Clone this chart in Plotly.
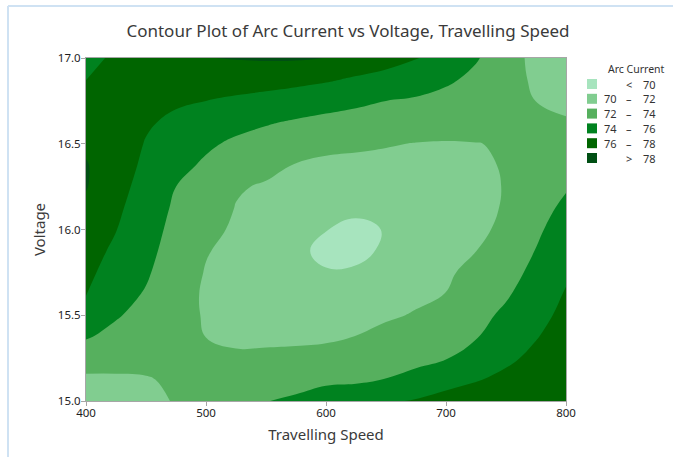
import plotly.graph_objects as go

# ---------------- data ----------------
speed = [400, 425, 450, 475, 500, 525, 550, 575, 600, 625, 650, 675, 700, 725, 750, 775, 800]
voltage = [15.0, 15.125, 15.25, 15.375, 15.5, 15.625, 15.75, 15.875, 16.0,
           16.125, 16.25, 16.375, 16.5, 16.625, 16.75, 16.875, 17.0]

# Arc current, one row per voltage (bottom to top), one column per travelling speed
arc_current = [
    [70.60, 70.90, 71.40, 72.15, 72.70, 73.30, 73.95, 74.30, 74.80, 74.90, 75.75, 76.15, 76.70, 76.95, 77.20, 77.40, 77.70],
    [71.67, 71.77, 71.91, 72.20, 72.46, 72.72, 73.09, 73.33, 73.67, 73.78, 74.04, 74.55, 75.28, 75.88, 76.40, 76.90, 77.39],
    [72.90, 72.62, 72.41, 72.30, 72.22, 72.14, 72.23, 72.33, 72.57, 72.90, 73.23, 73.51, 73.91, 74.81, 75.67, 76.40, 77.07],
    [74.16, 73.46, 72.89, 72.49, 71.99, 71.83, 71.77, 71.75, 71.75, 72.03, 72.43, 72.81, 73.29, 73.88, 75.02, 75.91, 76.76],
    [75.18, 74.17, 73.38, 72.60, 71.86, 71.61, 71.47, 71.38, 71.22, 71.43, 71.80, 72.11, 72.66, 73.41, 74.37, 75.45, 76.44],
    [76.08, 74.65, 73.87, 72.82, 71.76, 71.39, 71.16, 71.01, 70.69, 70.80, 71.35, 71.71, 72.02, 72.93, 73.77, 74.98, 76.13],
    [76.47, 75.12, 74.21, 73.00, 71.90, 71.32, 70.85, 70.60, 70.08, 70.15, 70.80, 71.36, 71.77, 72.45, 73.25, 74.52, 75.73],
    [76.86, 75.60, 74.49, 73.25, 72.10, 71.53, 70.87, 70.25, 69.72, 69.70, 70.18, 71.02, 71.52, 71.99, 72.72, 74.06, 75.27],
    [77.25, 76.05, 74.77, 73.46, 72.50, 71.74, 71.19, 70.62, 70.03, 69.72, 70.06, 70.67, 71.28, 71.80, 72.20, 73.71, 74.81],
    [77.63, 76.34, 75.05, 73.70, 72.91, 71.94, 71.51, 71.07, 70.60, 70.25, 70.55, 70.88, 71.03, 71.61, 72.12, 73.37, 74.35],
    [78.10, 76.64, 75.33, 74.00, 73.32, 72.15, 71.84, 71.50, 71.16, 70.95, 71.10, 71.24, 71.27, 71.58, 72.08, 73.02, 73.85],
    [78.12, 76.93, 75.62, 74.53, 73.73, 73.07, 72.42, 71.92, 71.68, 71.57, 71.59, 71.60, 71.59, 71.77, 72.10, 72.68, 73.28],
    [77.70, 77.00, 75.90, 75.07, 74.29, 73.69, 73.26, 72.80, 72.41, 72.30, 72.10, 71.95, 71.91, 71.97, 72.10, 72.43, 72.70],
    [77.08, 77.00, 76.21, 75.64, 75.15, 74.56, 74.16, 73.80, 73.49, 73.28, 73.05, 72.83, 72.60, 72.47, 72.30, 72.21, 72.12],
    [76.54, 77.00, 76.54, 76.23, 76.00, 75.69, 75.40, 75.07, 74.74, 74.37, 74.00, 73.78, 73.43, 73.02, 72.55, 71.99, 71.69],
    [75.98, 76.71, 76.87, 76.92, 76.95, 76.89, 76.75, 76.53, 76.22, 75.78, 75.39, 74.95, 74.30, 73.58, 72.77, 71.69, 71.29],
    [75.30, 76.40, 77.20, 77.60, 77.95, 78.10, 78.20, 78.20, 77.98, 77.20, 76.70, 76.10, 75.20, 74.15, 72.98, 71.40, 70.90],
]

contour_levels = [70, 72, 74, 76, 78]
band_colors = ["#a7e4be", "#81cd90", "#56b05e", "#00821f", "#006500", "#004f14"]
legend_low = ["", "70", "72", "74", "76", ""]
legend_mid = ["<", "\u2013", "\u2013", "\u2013", "\u2013", ">"]
legend_high = ["70", "72", "74", "76", "78", "78"]
legend_title = "Arc Current"

x_ticks = [400, 500, 600, 700, 800]
y_ticks = [15.0, 15.5, 16.0, 16.5, 17.0]

# ---------------- figure ----------------
n = len(band_colors)
stepped = []
for i, c in enumerate(band_colors):
    lo = 0.0 if i == 0 else (i - 0.5) / (n - 1)
    hi = 1.0 if i == n - 1 else (i + 0.5) / (n - 1)
    stepped.append([lo, c])
    stepped.append([hi, c])

fig = go.Figure()
fig.add_trace(go.Contour(
    x=speed, y=voltage, z=arc_current,
    contours=dict(start=contour_levels[0], end=contour_levels[-1],
                  size=contour_levels[1] - contour_levels[0],
                  coloring="fill", showlines=False),
    colorscale=stepped, showscale=False,
    line=dict(width=0, smoothing=1.2),
    hoverinfo="skip",
))

FONT = "Noto Sans"
L, R, T, B = 86, 566, 58, 401
W, H = 673, 457


def px(xp):
    return (xp - L) / (R - L)


def py(yp):
    return (B - yp) / (B - T)


shapes = []
annotations = []

# outer window border (light blue)
shapes.append(dict(type="line", xref="paper", yref="paper",
                   x0=px(8), x1=px(W), y0=py(6), y1=py(6),
                   line=dict(color="#cfe2f3", width=2)))
shapes.append(dict(type="line", xref="paper", yref="paper",
                   x0=px(8), x1=px(8), y0=py(6), y1=py(H),
                   line=dict(color="#cfe2f3", width=2)))

# legend
annotations.append(dict(text=legend_title, xref="paper", yref="paper",
                        x=px(606), y=py(69), xanchor="left", yanchor="middle",
                        showarrow=False, font=dict(family=FONT, size=10.5, color="#333")))
for i, c in enumerate(band_colors):
    cy = 84 + 14.8 * i
    shapes.append(dict(type="rect", xref="paper", yref="paper",
                       x0=px(587), x1=px(597), y0=py(cy + 5), y1=py(cy - 5),
                       fillcolor=c, line=dict(width=0)))
    if legend_low[i]:
        annotations.append(dict(text=legend_low[i], xref="paper", yref="paper",
                                x=px(619), y=py(cy), xanchor="right", yanchor="middle",
                                showarrow=False, font=dict(family=FONT, size=11, color="#333")))
    annotations.append(dict(text=legend_mid[i], xref="paper", yref="paper",
                            x=px(629), y=py(cy), xanchor="center", yanchor="middle",
                            showarrow=False, font=dict(family=FONT, size=11, color="#333")))
    annotations.append(dict(text=legend_high[i], xref="paper", yref="paper",
                            x=px(641), y=py(cy), xanchor="left", yanchor="middle",
                            showarrow=False, font=dict(family=FONT, size=11, color="#333")))

fig.update_layout(
    width=W, height=H,
    margin=dict(l=L, r=W - R, t=T, b=H - B),
    paper_bgcolor="white", plot_bgcolor="white",
    font=dict(family=FONT, color="#333"),
    title=dict(text="Contour Plot of Arc Current vs Voltage, Travelling Speed",
               xref="container", yref="container",
               x=348 / W, xanchor="center", y=1 - 31 / H, yanchor="middle",
               font=dict(family=FONT, size=17, color="#3a3a3a")),
    showlegend=False,
    shapes=shapes,
    annotations=annotations,
)

axis_common = dict(showgrid=False, zeroline=False, showline=True, mirror=True,
                   linecolor="#a6a6a6", linewidth=1, ticks="outside", ticklen=4,
                   tickcolor="#a6a6a6", tickfont=dict(family=FONT, size=11.5, color="#1e1e1e"))

fig.update_xaxes(range=[speed[0], speed[-1]], tickvals=x_ticks,
                 ticktext=[str(v) for v in x_ticks], ticklabelstandoff=-3,
                 title=dict(text="Travelling Speed", standoff=10,
                            font=dict(family=FONT, size=15, color="#3a3a3a")),
                 **axis_common)
fig.update_yaxes(range=[voltage[0], voltage[-1]], tickvals=y_ticks,
                 ticktext=["%.1f" % v for v in y_ticks], ticklabelstandoff=-2,
                 title=dict(text="Voltage", standoff=8,
                            font=dict(family=FONT, size=15, color="#3a3a3a")),
                 **axis_common)

fig.write_html("out.html", config={"displayModeBar": False},
               post_script="document.body.style.margin='0px';")
